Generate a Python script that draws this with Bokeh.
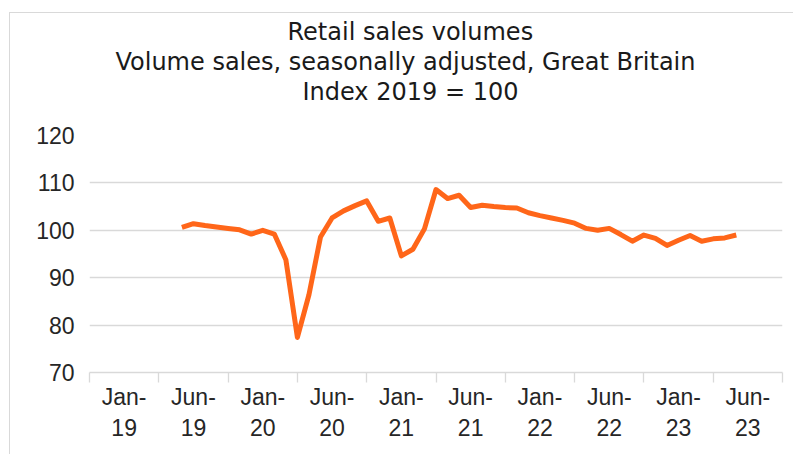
from bokeh.plotting import figure
from bokeh.models import Range1d, FixedTicker, Title, ColumnDataSource
from bokeh.embed import file_html
from bokeh.resources import INLINE

# ---- data ----
months = ["2019-06", "2019-07", "2019-08", "2019-09", "2019-10", "2019-11", "2019-12",
          "2020-01", "2020-02", "2020-03", "2020-04", "2020-05", "2020-06", "2020-07",
          "2020-08", "2020-09", "2020-10", "2020-11", "2020-12",
          "2021-01", "2021-02", "2021-03", "2021-04", "2021-05", "2021-06", "2021-07",
          "2021-08", "2021-09", "2021-10", "2021-11", "2021-12",
          "2022-01", "2022-02", "2022-03", "2022-04", "2022-05", "2022-06", "2022-07",
          "2022-08", "2022-09", "2022-10", "2022-11", "2022-12",
          "2023-01", "2023-02", "2023-03", "2023-04", "2023-05", "2023-06"]
volumes = [100.6, 101.4, 101.0, 100.7, 100.4, 100.1, 99.2,
           100.0, 99.2, 93.8, 77.4, 86.4, 98.6, 102.6,
           104.1, 105.2, 106.2, 101.9, 102.6,
           94.6, 96.0, 100.3, 108.6, 106.7, 107.4, 104.8,
           105.3, 105.0, 104.8, 104.7, 103.7,
           103.1, 102.6, 102.1, 101.5, 100.4, 100.0, 100.4,
           99.1, 97.7, 99.0, 98.3, 96.8,
           97.9, 98.9, 97.7, 98.2, 98.4, 99.0]
tick_labels = ["Jan-19", "Jun-19", "Jan-20", "Jun-20", "Jan-21",
               "Jun-21", "Jan-22", "Jun-22", "Jan-23", "Jun-23"]
y_ticks = [70, 80, 90, 100, 110, 120]
title_lines = ["Retail sales volumes",
               "Volume sales, seasonally adjusted, Great Britain",
               "Index 2019 = 100"]
title_offsets = [198, 26, 213]   # layout: px from the frame's left edge

# month index counted from Jan 2019
def month_index(s):
    y, m = s.split("-")
    return (int(y) - 2019) * 12 + int(m) - 1

xs = [month_index(m) for m in months]
src = ColumnDataSource(dict(x=xs, y=volumes))

LABEL_STEP = 6
label_pos = [i * LABEL_STEP for i in range(len(tick_labels))]
bound_pos = [p - LABEL_STEP / 2 for p in label_pos] + [label_pos[-1] + LABEL_STEP / 2]

X0, X1 = bound_pos[0], bound_pos[-1]
Y0, Y1 = y_ticks[0], y_ticks[-1]

W, H = 784, 442
BL, BR, BT, BB = 79, 12, 122, 83

p = figure(width=W, height=H, output_backend="svg", toolbar_location=None,
           x_range=Range1d(X0, X1), y_range=Range1d(Y0, Y1),
           min_border_left=BL, min_border_right=BR,
           min_border_top=BT, min_border_bottom=BB)
p.styles = {"margin-top": "12px", "margin-left": "9px",
            "border-top": "1px solid #d9d9d9", "border-left": "1px solid #d9d9d9"}
p.outline_line_color = None
p.background_fill_color = "white"
p.border_fill_color = "white"

GRID = "#d9d9d9"
TXT = "#262626"
FONT = "Liberation Sans"

p.xgrid.visible = False
p.ygrid.grid_line_color = GRID
p.ygrid.grid_line_width = 1.3

yax = p.yaxis[0]
yax.ticker = FixedTicker(ticks=y_ticks)
yax.axis_line_color = None
yax.major_tick_line_color = None
yax.minor_tick_line_color = None
yax.major_tick_out = 0
yax.major_label_standoff = 15
yax.major_label_text_font = FONT
yax.major_label_text_font_size = "23px"
yax.major_label_text_color = TXT

xax = p.xaxis[0]
xax.ticker = FixedTicker(ticks=label_pos, minor_ticks=bound_pos)
xax.axis_line_color = GRID
xax.axis_line_width = 1.3
xax.major_tick_line_color = None
xax.major_tick_out = 0
xax.major_tick_in = 0
xax.minor_tick_line_color = GRID
xax.minor_tick_line_width = 1.3
xax.minor_tick_out = 10
xax.minor_tick_in = 0
xax.major_label_standoff = 1
xax.major_label_text_font = FONT
xax.major_label_text_font_size = "23px"
xax.major_label_text_color = TXT
xax.major_label_overrides = {pos: lab.replace("-", "-\n") for pos, lab in zip(label_pos, tick_labels)}

p.line("x", "y", source=src, line_color="#FF6619", line_width=5, line_join="round")

TITLE_STYLE = dict(text_font="DejaVu Sans", text_font_size="24px",
                   text_font_style="normal", text_color="#1a1a1a")
# spacer between the frame and the title block
p.add_layout(Title(text=" ", standoff=0, **TITLE_STYLE), "above")
# title lines stacked above (added nearest-first)
for line, off in reversed(list(zip(title_lines, title_offsets))):
    p.add_layout(Title(text=line, align="left", offset=off, standoff=0,
                       **TITLE_STYLE), "above")

open("out.html", "w").write(file_html(p, INLINE))
